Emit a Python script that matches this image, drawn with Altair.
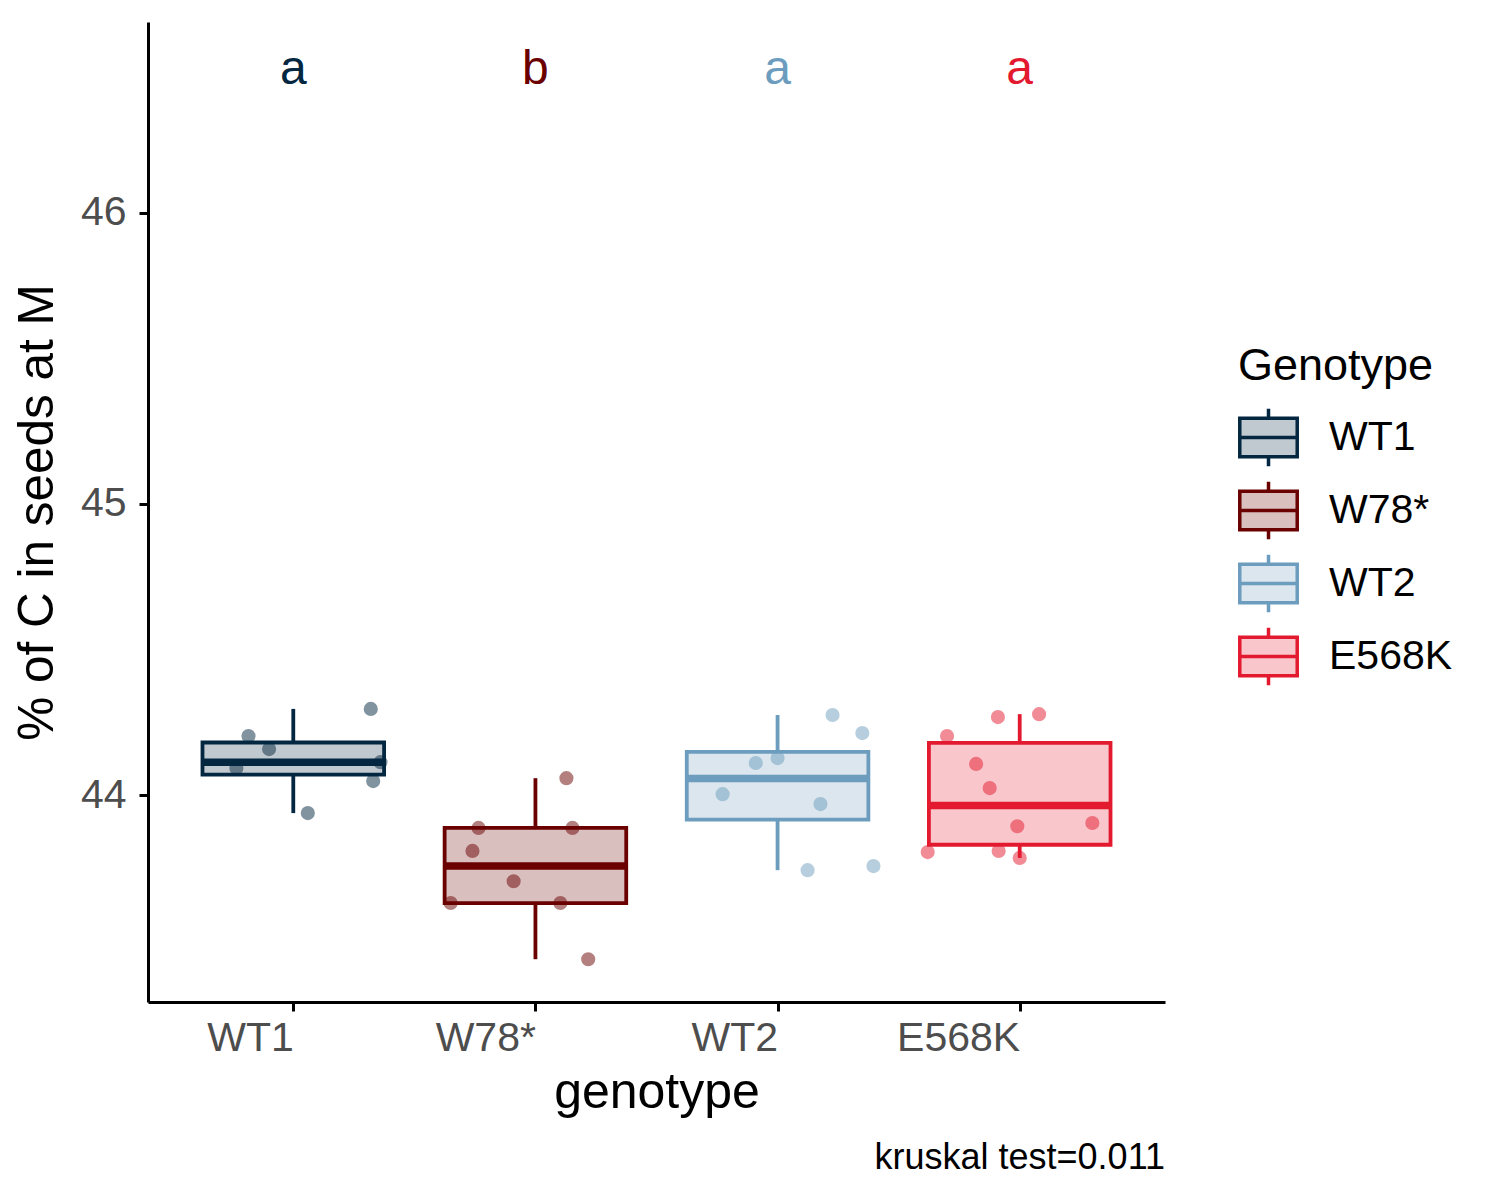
import altair as alt
import numpy as np
import pandas as pd

GENOTYPES = ["WT1", "W78*", "WT2", "E568K"]
STROKE_COLORS = ["#032740", "#6A0000", "#6D9DBE", "#E31A2F"]
FILL_COLORS = ["#C0C9CF", "#DABFBF", "#DBE6EE", "#F8C6CB"]
LETTERS = ["a", "b", "a", "a"]
LETTER_Y = [46.443, 46.443, 46.443, 46.443]
CAPTION = "kruskal test=0.011"

WT1_VALUES = [44.296, 44.203, 44.158, 44.093, 44.113, 44.048, 43.938]
WT1_JITTER = [0.32, -0.185, -0.10, -0.235, 0.36, 0.33, 0.06]
W78_VALUES = [44.058, 43.887, 43.887, 43.808, 43.704, 43.629, 43.629, 43.436]
W78_JITTER = [0.128, -0.235, 0.153, -0.26, -0.09, -0.35, 0.103, 0.218]
WT2_VALUES = [44.275, 44.213, 44.110, 44.127, 44.003, 43.969, 43.742, 43.756]
WT2_JITTER = [0.227, 0.35, -0.09, 0.0, -0.227, 0.177, 0.124, 0.396]
E568K_VALUES = [44.268, 44.278, 44.203, 44.107, 44.024, 43.893, 43.904, 43.804, 43.808, 43.784]
E568K_JITTER = [-0.09, 0.08, -0.3, -0.18, -0.124, -0.01, 0.30, -0.38, -0.087, 0.0]

VALUES = [WT1_VALUES, W78_VALUES, WT2_VALUES, E568K_VALUES]
JITTER = [WT1_JITTER, W78_JITTER, WT2_JITTER, E568K_JITTER]

BOX_HALF = 0.375
FONT = "Liberation Sans"

# points
pts = []
for i, (g, vals, jit) in enumerate(zip(GENOTYPES, VALUES, JITTER)):
    for v, j in zip(vals, jit):
        pts.append({"Genotype": g, "xp": i + 1 + j, "value": v})
pts = pd.DataFrame(pts)

# box stats (ggplot style)
boxes = []
for i, (g, vals) in enumerate(zip(GENOTYPES, VALUES)):
    v = np.array(vals)
    q1, med, q3 = np.percentile(v, [25, 50, 75])
    iqr = q3 - q1
    hi = v[v <= q3 + 1.5 * iqr].max()
    lo = v[v >= q1 - 1.5 * iqr].min()
    boxes.append({"Genotype": g, "pos": i + 1, "x_lo": i + 1 - BOX_HALF,
                  "x_hi": i + 1 + BOX_HALF, "q1": q1, "med": med, "q3": q3,
                  "lo": lo, "hi": hi})
boxes = pd.DataFrame(boxes)

letters = pd.DataFrame({"Genotype": GENOTYPES, "pos": [1, 2, 3, 4],
                        "label": LETTERS, "y": LETTER_Y})

label_expr = "[" + ",".join("'" + g + "'" for g in GENOTYPES) + "][datum.value - 1]"

xscale = alt.Scale(domain=[0.4, 4.6], nice=False, zero=False)
yscale = alt.Scale(domain=[43.289, 46.656], nice=False, zero=False)

xaxis = alt.Axis(values=[1, 2, 3, 4], labelExpr=label_expr, title="genotype",
                 labelAlign="right", labelFontSize=41, labelColor="#4D4D4D",
                 titleFontSize=50, titleColor="black", titleFontWeight="normal",
                 labelPadding=7, titlePadding=9, tickSize=9, tickWidth=3,
                 domainWidth=3, domainColor="black", tickColor="black",
                 grid=False, labelFont=FONT, titleFont=FONT)
yaxis = alt.Axis(values=[44, 45, 46], format=".0f", title="% of C in seeds at M",
                 labelFontSize=41, labelColor="#4D4D4D", titleFontSize=49.5,
                 titleColor="black", titleFontWeight="normal", labelPadding=13,
                 titlePadding=18, tickSize=9, tickWidth=3, domainWidth=3,
                 domainColor="black", tickColor="black", grid=False,
                 labelFont=FONT, titleFont=FONT)

stroke_scale = alt.Scale(domain=GENOTYPES, range=STROKE_COLORS)
fill_scale = alt.Scale(domain=GENOTYPES, range=FILL_COLORS)

SYMBOL = "M-1,-0.67H1V0.67H-1Z M-1,0H1 M0,-0.67V-1 M0,0.67V1"

legend = alt.Legend(title="Genotype", orient="none", legendX=1090, legendY=322,
                    symbolType=SYMBOL, symbolSize=3300, symbolStrokeWidth=3.5,
                    labelFontSize=41, titleFontSize=45, labelOffset=30,
                    rowPadding=0, titlePadding=18, titleFontWeight="normal",
                    titleLimit=400, labelLimit=400,
                    labelFont=FONT, titleFont=FONT, labelColor="black",
                    titleColor="black")

base_box = alt.Chart(boxes)

rect = base_box.mark_rect(strokeWidth=3.8).encode(
    x=alt.X("x_lo:Q", scale=xscale, axis=xaxis),
    x2="x_hi:Q",
    y=alt.Y("q1:Q", scale=yscale, axis=yaxis),
    y2="q3:Q",
    fill=alt.Fill("Genotype:N", scale=fill_scale, legend=legend),
    stroke=alt.Stroke("Genotype:N", scale=stroke_scale, legend=legend),
)
whisk_hi = base_box.mark_rule(strokeWidth=3.8).encode(
    x=alt.X("pos:Q", scale=xscale), y=alt.Y("q3:Q", scale=yscale), y2="hi:Q",
    stroke=alt.Stroke("Genotype:N", scale=stroke_scale),
)
whisk_lo = base_box.mark_rule(strokeWidth=3.8).encode(
    x=alt.X("pos:Q", scale=xscale), y=alt.Y("lo:Q", scale=yscale), y2="q1:Q",
    stroke=alt.Stroke("Genotype:N", scale=stroke_scale),
)
median = base_box.mark_rule(strokeWidth=7.5).encode(
    x=alt.X("x_lo:Q", scale=xscale), x2="x_hi:Q",
    y=alt.Y("med:Q", scale=yscale),
    stroke=alt.Stroke("Genotype:N", scale=stroke_scale),
)

points = alt.Chart(pts).mark_circle(size=200, opacity=0.5).encode(
    x=alt.X("xp:Q", scale=xscale),
    y=alt.Y("value:Q", scale=yscale),
    color=alt.Color("Genotype:N", scale=stroke_scale, legend=None),
)

text = alt.Chart(letters).mark_text(fontSize=48, font=FONT, baseline="alphabetic",
                                     align="center").encode(
    x=alt.X("pos:Q", scale=xscale),
    y=alt.Y("y:Q", scale=yscale),
    text="label:N",
    color=alt.Color("Genotype:N", scale=stroke_scale, legend=None),
)

chart = alt.layer(rect, whisk_hi, whisk_lo, median, points, text).properties(
    width=1017, height=980,
    padding={"left": 4, "top": 14, "right": 5, "bottom": 5},
    title=alt.TitleParams(CAPTION, orient="bottom", anchor="end", frame="group",
                          fontSize=36, fontWeight="normal", font=FONT,
                          color="black", offset=24),
).configure(background="white").configure_view(stroke=None)

chart.save("out.html", embed_options={"renderer": "svg", "actions": False})
